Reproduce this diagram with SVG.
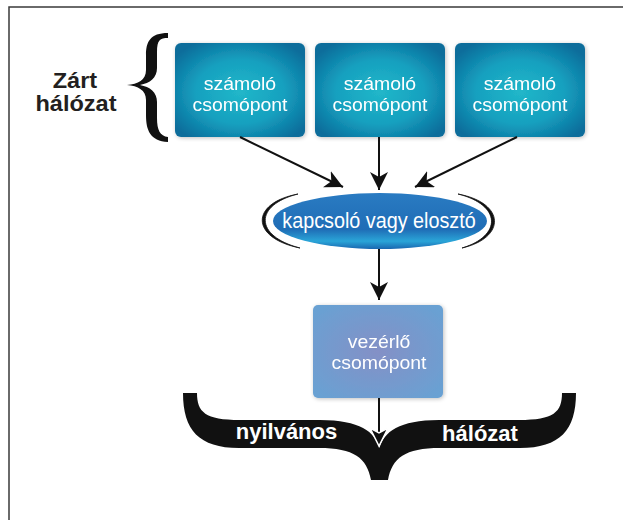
<svg xmlns="http://www.w3.org/2000/svg" width="623" height="520" viewBox="0 0 623 520">
  <style>
    .box-text { font-family: "Liberation Sans", Arial, sans-serif; font-size: 18px; fill: #ffffff; text-anchor: middle; }
    .ell-text { font-family: "Liberation Sans", Arial, sans-serif; font-size: 22px; fill: #ffffff; text-anchor: middle; }
    .label { font-family: "Liberation Sans", Arial, sans-serif; font-weight: bold; font-size: 22px; text-anchor: middle; }
    .conn { stroke: #111111; stroke-width: 2; fill: none; }
  </style>
  <defs>
    <radialGradient id="tealGrad" cx="50%" cy="52%" r="62%">
      <stop offset="0" stop-color="#21b7c9"/>
      <stop offset="0.55" stop-color="#16a0bf"/>
      <stop offset="1" stop-color="#0a6d9b"/>
    </radialGradient>
    <radialGradient id="ctrlGrad" cx="50%" cy="50%" r="65%">
      <stop offset="0" stop-color="#8490c6"/>
      <stop offset="1" stop-color="#69a1d3"/>
    </radialGradient>
    <linearGradient id="ellGrad" x1="0" y1="0" x2="0" y2="1">
      <stop offset="0" stop-color="#2a7bc2"/>
      <stop offset="0.65" stop-color="#1f6db6"/>
      <stop offset="0.86" stop-color="#2aa5d8"/>
      <stop offset="1" stop-color="#1a67b0"/>
    </linearGradient>
    <filter id="shadow" x="-10%" y="-10%" width="120%" height="120%">
      <feGaussianBlur in="SourceAlpha" stdDeviation="2"/>
      <feOffset dx="1" dy="1"/>
      <feComponentTransfer><feFuncA type="linear" slope="0.25"/></feComponentTransfer>
      <feMerge><feMergeNode/><feMergeNode in="SourceGraphic"/></feMerge>
    </filter>
    <marker id="arrow" viewBox="0 0 18 18" refX="18" refY="9" markerWidth="18" markerHeight="18" markerUnits="userSpaceOnUse" orient="auto">
      <path d="M0,0 L18,9 L0,18 L5,9 Z" fill="#111111"/>
    </marker>
    <marker id="arrowW" viewBox="-2 -2 22 22" refX="18" refY="9" markerWidth="22" markerHeight="22" markerUnits="userSpaceOnUse" orient="auto">
      <path d="M0,0 L18,9 L0,18 L5,9 Z" fill="#111111" stroke="#ffffff" stroke-width="1.5" stroke-linejoin="miter"/>
    </marker>
  </defs>

  <!-- frame -->
  <path d="M9,520 V7 H623" fill="none" stroke="#3a3a3a" stroke-width="1.5"/>

  <!-- left brace and label -->
  <g id="zart-halozat">
    <path d="M168,33 C150,33 146,42 146,55 L146,70 C146,80 138,84 127,85 C138,86 146,90 146,100 L146,115 C146,130 150,141 168,142 L168,137 C160,136 157,130 157,118 L157,102 C157,92 150,87 140,85 C150,83 157,78 157,68 L157,52 C157,40 160,38 168,38 Z" fill="#111111"/>
    <text class="label" fill="#231f20" font-size="21" transform="translate(76 0) scale(1.07 1)"><tspan x="-1" y="88">Zárt</tspan><tspan x="0" y="111.5">hálózat</tspan></text>
  </g>

  <!-- compute nodes -->
  <g id="node1" filter="url(#shadow)">
    <rect x="175" y="43" width="130" height="94" rx="6" fill="url(#tealGrad)"/>
    <text class="box-text" transform="translate(240 0) scale(1.08 1)"><tspan x="0" y="90.5">számoló</tspan><tspan x="0" y="111">csomópont</tspan></text>
  </g>
  <g id="node2" filter="url(#shadow)">
    <rect x="315" y="43" width="130" height="94" rx="6" fill="url(#tealGrad)"/>
    <text class="box-text" transform="translate(380 0) scale(1.08 1)"><tspan x="0" y="90.5">számoló</tspan><tspan x="0" y="111">csomópont</tspan></text>
  </g>
  <g id="node3" filter="url(#shadow)">
    <rect x="455" y="43" width="130" height="94" rx="6" fill="url(#tealGrad)"/>
    <text class="box-text" transform="translate(520 0) scale(1.08 1)"><tspan x="0" y="90.5">számoló</tspan><tspan x="0" y="111">csomópont</tspan></text>
  </g>

  <!-- switch -->
  <g id="switch">
    <ellipse cx="380" cy="221" rx="107" ry="28" fill="url(#ellGrad)"/>
    <path d="M298,194 C250,203 250,238 300,248 C254,236 254,205 298,194 Z" fill="#111111" stroke="#111111" stroke-width="0.8"/>
    <path d="M458,194 C506,203 506,238 462,248 C502,236 502,205 458,194 Z" fill="#111111" stroke="#111111" stroke-width="0.8"/>
    <text class="ell-text" transform="translate(379 0) scale(0.9 1)" x="0" y="228">kapcsoló vagy elosztó</text>
  </g>

  <!-- control node -->
  <g id="control" filter="url(#shadow)">
    <rect x="313" y="305" width="130" height="93" rx="5" fill="url(#ctrlGrad)"/>
    <text class="box-text" transform="translate(379 0) scale(1.08 1)"><tspan x="0" y="348.5">vezérlő</tspan><tspan x="0" y="369">csomópont</tspan></text>
  </g>

  <!-- public network brace -->
  <g id="public-network">
    <path d="M183,393 L197,393 C197,412 205,420 240,420 L320,420 C360,420 375,432 379.5,448 C384,432 399,420 439,420 L519,420 C554,420 562,412 562,393 L576,393 C576,430 560,448 520,448 L440,448 C405,448 392,458 388,480 L371,480 C367,458 354,448 319,448 L239,448 C199,448 183,430 183,393 Z" fill="#111111"/>
    <text class="label" x="286.5" y="439" fill="#ffffff" font-size="21.5">nyilvános</text>
    <text class="label" x="480" y="441" fill="#ffffff">hálózat</text>
  </g>

  <!-- connectors -->
  <g id="connectors">
    <line class="conn" x1="240" y1="137" x2="343" y2="187" marker-end="url(#arrow)"/>
    <line class="conn" x1="379" y1="137" x2="379" y2="190" marker-end="url(#arrow)"/>
    <line class="conn" x1="517" y1="137" x2="415" y2="187" marker-end="url(#arrow)"/>
    <line class="conn" x1="379" y1="249" x2="379" y2="300" marker-end="url(#arrow)"/>
    <line class="conn" x1="379" y1="398" x2="379" y2="446" marker-end="url(#arrowW)"/>
  </g>
</svg>
